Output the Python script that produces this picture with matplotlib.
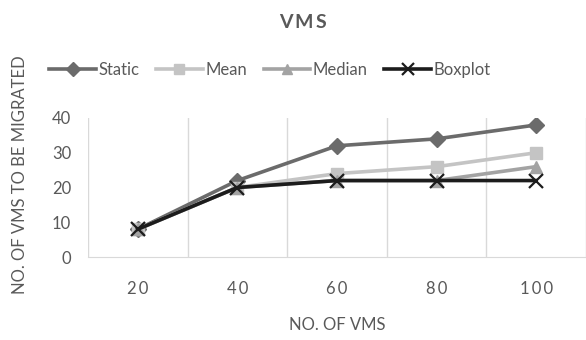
import matplotlib
matplotlib.use("Agg")
import matplotlib.pyplot as plt
import numpy as np

plt.rcParams['font.family'] = ['Lato', 'DejaVu Sans']

# data
vms = ['20', '40', '60', '80', '100']
static = [8, 22, 32, 34, 38]
mean = [8, 20, 24, 26, 30]
median = [8, 20, 22, 22, 26]
boxplot = [8, 20, 22, 22, 22]

txt = '#595959'
fig = plt.figure(figsize=(5.86, 3.4), dpi=100)
ax = fig.add_axes([88 / 586, 1 - 257 / 340, 1 - 88 / 586, (257 - 118) / 340])

x = np.arange(len(vms))
ax.plot(x, static, color='#6b6b6b', lw=2.6, marker='D', ms=8, label='Static')
ax.plot(x, mean, color='#c4c4c4', lw=2.6, marker='s', ms=9, label='Mean')
ax.plot(x, median, color='#a3a3a3', lw=2.6, marker='^', ms=9, label='Median')
ax.plot(x, boxplot, color='#1c1c1c', lw=2.6, marker='x', ms=10, mew=1.6, label='Boxplot')

ax.set_xlim(-0.5, len(vms) - 0.5)
ax.set_ylim(0, 40)
ax.set_yticks([0, 10, 20, 30, 40])
ax.set_xticks(x)
ax.set_xticklabels(['\u2009'.join(v) for v in vms])
ax.set_xticks(np.arange(-0.5, len(vms), 1.0), minor=True)
ax.grid(True, which='minor', axis='x', color='#d9d9d9', lw=1)
ax.tick_params(which='both', length=0, labelsize=12, colors=txt)
ax.tick_params(axis='x', pad=17)
ax.tick_params(axis='y', pad=12)
for s in ['top', 'right', 'left']:
    ax.spines[s].set_visible(False)
ax.spines['bottom'].set_color('#d9d9d9')

fig.text(337 / 586, 1 - 325 / 340, 'NO. OF VMS', fontsize=12, color=txt,
         ha='center', va='center')
fig.text(20 / 586, 1 - 175 / 340, 'NO. OF VMS TO BE MIGRATED', rotation=90,
         fontsize=12, color=txt, ha='center', va='center')
fig.text(0.5 + 10 / 586, 1 - 22 / 340, '\u2009'.join('VMS'), fontsize=14, fontweight='bold',
         color=txt, ha='center', va='center')

leg = fig.legend(loc='center', bbox_to_anchor=(270 / 586, 1 - 70 / 340), ncol=4,
                 frameon=False, fontsize=12, handlelength=2.8, handletextpad=0.15,
                 columnspacing=1.0, markerscale=0.85)
for t in leg.get_texts():
    t.set_color(txt)

fig.savefig('out.png', dpi=100)
